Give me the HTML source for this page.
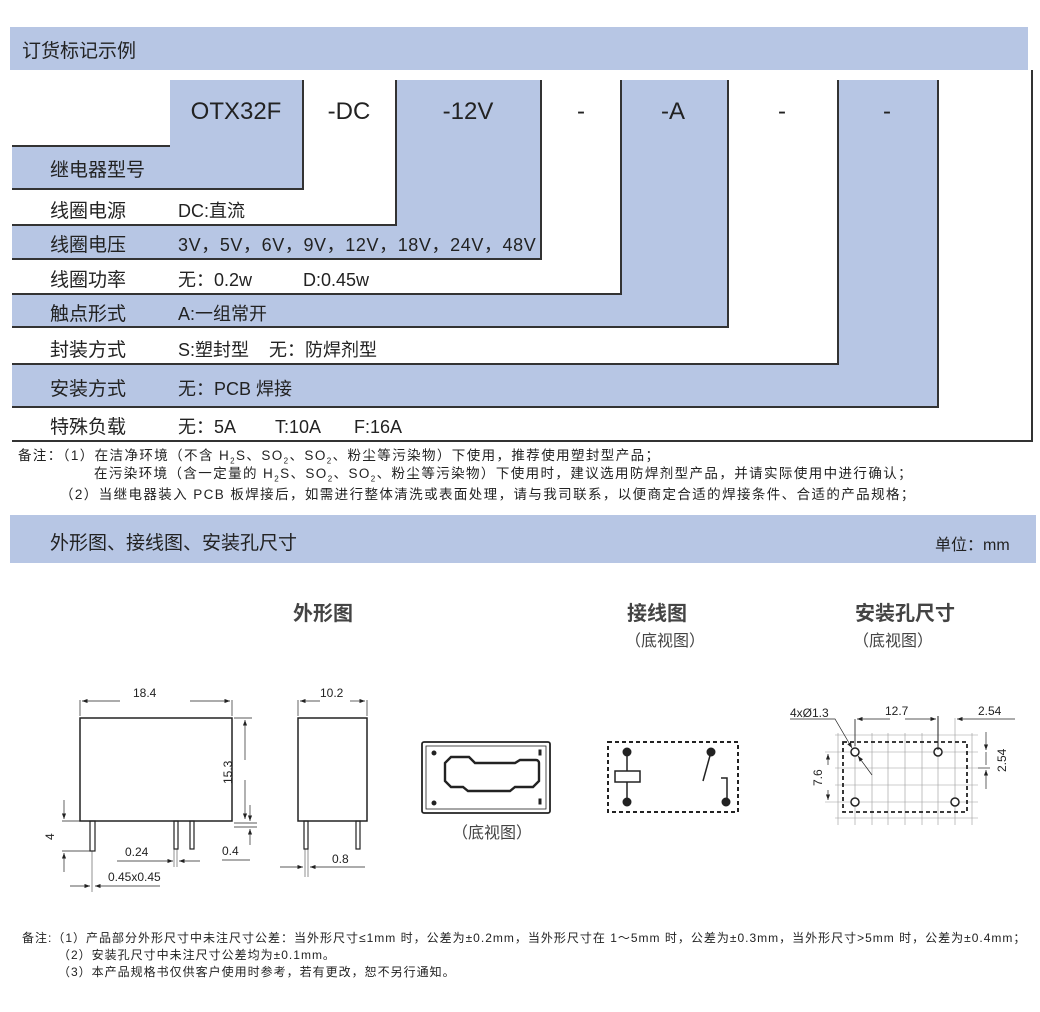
<!DOCTYPE html>
<html><head><meta charset="utf-8"><style>
*{margin:0;padding:0;box-sizing:border-box}
body{width:1040px;height:1012px;background:#fff;position:relative;overflow:hidden;font-family:"Liberation Sans","Noto Sans CJK SC",sans-serif;color:#222}
.a{position:absolute;white-space:nowrap}
.b{position:absolute;background:#b7c6e4}
.h{position:absolute;background:#333;height:1.5px}
.v{position:absolute;background:#333;width:1.5px}
.lab{position:absolute;left:50px;font-size:19px;white-space:nowrap}
.val{position:absolute;left:178px;font-size:18px;line-height:26px;white-space:nowrap;margin-top:4px}
.code{position:absolute;top:98px;font-size:24px;width:0;text-align:center;white-space:nowrap}
.code span{display:inline-block;transform:translateX(-50%)}
.n{position:absolute;font-size:13.5px;letter-spacing:1.4px;white-space:nowrap}
.m{position:absolute;font-size:12px;letter-spacing:1px;white-space:nowrap}
</style></head><body>
<div class="b" style="left:10px;top:27px;width:1018px;height:43px"></div>
<div class="a" style="left:22px;top:36px;font-size:19px">订货标记示例</div>

<div class="b" style="left:170px;top:80px;width:133px;height:109px"></div>
<div class="b" style="left:12px;top:146px;width:291px;height:43px"></div>
<div class="b" style="left:395px;top:80px;width:146px;height:179px"></div>
<div class="b" style="left:12px;top:225px;width:529px;height:34px"></div>
<div class="b" style="left:620px;top:80px;width:107px;height:247px"></div>
<div class="b" style="left:12px;top:294px;width:715px;height:33px"></div>
<div class="b" style="left:837px;top:80px;width:100px;height:327px"></div>
<div class="b" style="left:12px;top:364px;width:925px;height:43px"></div>

<div class="h" style="left:12px;top:145px;width:158px"></div>
<div class="h" style="left:12px;top:188px;width:292px"></div>
<div class="v" style="left:302px;top:80px;height:110px"></div>
<div class="h" style="left:12px;top:224px;width:384px"></div>
<div class="v" style="left:395px;top:80px;height:146px"></div>
<div class="h" style="left:12px;top:258px;width:530px"></div>
<div class="v" style="left:540px;top:80px;height:180px"></div>
<div class="h" style="left:12px;top:293px;width:609px"></div>
<div class="v" style="left:620px;top:80px;height:215px"></div>
<div class="h" style="left:12px;top:326px;width:716px"></div>
<div class="v" style="left:727px;top:80px;height:248px"></div>
<div class="h" style="left:12px;top:363px;width:826px"></div>
<div class="v" style="left:837px;top:80px;height:285px"></div>
<div class="h" style="left:12px;top:406px;width:926px"></div>
<div class="v" style="left:937px;top:80px;height:328px"></div>
<div class="h" style="left:12px;top:440px;width:1021px"></div>
<div class="v" style="left:1031px;top:70px;height:371px"></div>

<div class="code" style="left:236px"><span>OTX32F</span></div>
<div class="code" style="left:349px"><span>-DC</span></div>
<div class="code" style="left:468px"><span>-12V</span></div>
<div class="code" style="left:581px"><span>-</span></div>
<div class="code" style="left:673px"><span>-A</span></div>
<div class="code" style="left:782px"><span>-</span></div>
<div class="code" style="left:887px"><span>-</span></div>

<div class="lab" style="top:155px">继电器型号</div>
<div class="lab" style="top:196px">线圈电源</div><div class="val" style="top:194px">DC:直流</div>
<div class="lab" style="top:230px">线圈电压</div><div class="val" style="top:228px;letter-spacing:0.6px">3V，5V，6V，9V，12V，18V，24V，48V</div>
<div class="lab" style="top:265px">线圈功率</div><div class="val" style="top:263px">无：0.2w</div><div class="val" style="top:263px;left:303px">D:0.45w</div>
<div class="lab" style="top:299px">触点形式</div><div class="val" style="top:297px">A:一组常开</div>
<div class="lab" style="top:335px">封装方式</div><div class="val" style="top:333px">S:塑封型&nbsp;&nbsp;&nbsp;&nbsp;无：防焊剂型</div>
<div class="lab" style="top:374px">安装方式</div><div class="val" style="top:372px">无：PCB 焊接</div>
<div class="lab" style="top:412px">特殊负载</div><div class="val" style="top:410px">无：5A</div><div class="val" style="top:410px;left:275px">T:10A</div><div class="val" style="top:410px;left:354px">F:16A</div>

<div class="n" style="left:18px;top:444px">备注：（1）在洁净环境（不含 H<sub style="font-size:8px">2</sub>S、SO<sub style="font-size:8px">2</sub>、SO<sub style="font-size:8px">2</sub>、粉尘等污染物）下使用，推荐使用塑封型产品；</div>
<div class="n" style="left:94px;top:462px">在污染环境（含一定量的 H<sub style="font-size:8px">2</sub>S、SO<sub style="font-size:8px">2</sub>、SO<sub style="font-size:8px">2</sub>、粉尘等污染物）下使用时，建议选用防焊剂型产品，并请实际使用中进行确认；</div>
<div class="n" style="left:60px;top:483px">（2）当继电器装入 PCB 板焊接后，如需进行整体清洗或表面处理，请与我司联系，以便商定合适的焊接条件、合适的产品规格；</div>

<div class="b" style="left:10px;top:515px;width:1026px;height:48px"></div>
<div class="a" style="left:50px;top:528px;font-size:19px">外形图、接线图、安装孔尺寸</div>
<div class="a" style="left:935px;top:531px;font-size:16px">单位：mm</div>

<div class="a" style="left:293px;top:597px;font-size:20px;font-weight:bold;color:#444">外形图</div>
<div class="a" style="left:627px;top:597px;font-size:20px;font-weight:bold;color:#444">接线图</div>
<div class="a" style="left:625px;top:627px;font-size:16px;color:#444">（底视图）</div>
<div class="a" style="left:855px;top:597px;font-size:20px;font-weight:bold;color:#444">安装孔尺寸</div>
<div class="a" style="left:853px;top:627px;font-size:16px;color:#444">（底视图）</div>

<svg class="a" style="left:0;top:0" width="1040" height="1012" font-family="Liberation Sans" font-size="12" fill="none" stroke="#222">
<defs><marker id="ar" markerWidth="8" markerHeight="6" refX="8" refY="3" orient="auto"><path d="M0,0L8,3L0,6z" fill="#222" stroke="none"/></marker></defs>
<rect x="80" y="718" width="152" height="103" stroke-width="1.5"/>
<line x1="80" y1="700" x2="80" y2="716" stroke-width=".7"/><line x1="232" y1="700" x2="232" y2="716" stroke-width=".7"/>
<line x1="120" y1="701" x2="82" y2="701" marker-end="url(#ar)" stroke-width=".7"/><line x1="190" y1="701" x2="230" y2="701" marker-end="url(#ar)" stroke-width=".7"/>
<text x="133" y="697" fill="#222" stroke="none">18.4</text>
<line x1="234" y1="718" x2="252" y2="718" stroke-width=".7"/>
<line x1="245" y1="760" x2="245" y2="720" marker-end="url(#ar)" stroke-width=".7"/><line x1="245" y1="780" x2="245" y2="819" marker-end="url(#ar)" stroke-width=".7"/>
<text x="0" y="0" transform="translate(232,784) rotate(-90)" fill="#222" stroke="none">15.3</text>
<rect x="90" y="821" width="5" height="30" stroke-width="1.2"/>
<rect x="174" y="821" width="4" height="28" stroke-width="1.2"/>
<rect x="190" y="821" width="4" height="28" stroke-width="1.2"/>
<line x1="62" y1="821" x2="90" y2="821" stroke-width=".7"/><line x1="62" y1="851" x2="90" y2="851" stroke-width=".7"/>
<line x1="64" y1="800" x2="64" y2="819" marker-end="url(#ar)" stroke-width=".7"/><line x1="64" y1="872" x2="64" y2="853" marker-end="url(#ar)" stroke-width=".7"/>
<text x="0" y="0" transform="translate(54,840) rotate(-90)" fill="#222" stroke="none">4</text>
<line x1="117" y1="861" x2="173" y2="861" marker-end="url(#ar)" stroke-width=".7"/><line x1="200" y1="861" x2="179" y2="861" marker-end="url(#ar)" stroke-width=".7"/>
<line x1="174" y1="849" x2="174" y2="867" stroke-width=".5"/><line x1="177" y1="849" x2="177" y2="867" stroke-width=".5"/>
<text x="125" y="856" fill="#222" stroke="none">0.24</text>
<line x1="70" y1="886" x2="90" y2="886" marker-end="url(#ar)" stroke-width=".7"/><line x1="160" y1="886" x2="95" y2="886" marker-end="url(#ar)" stroke-width=".7"/>
<line x1="92" y1="851" x2="92" y2="892" stroke-width=".5"/>
<text x="108" y="881" fill="#222" stroke="none">0.45x0.45</text>
<line x1="234" y1="823" x2="257" y2="823" stroke-width=".7"/><line x1="234" y1="827" x2="257" y2="827" stroke-width=".7"/>
<line x1="250" y1="805" x2="250" y2="821" marker-end="url(#ar)" stroke-width=".7"/><line x1="250" y1="845" x2="250" y2="829" marker-end="url(#ar)" stroke-width=".7"/>
<line x1="222" y1="860" x2="250" y2="860" stroke-width=".7"/>
<text x="222" y="855" fill="#222" stroke="none">0.4</text>
<rect x="298" y="718" width="69" height="103" stroke-width="1.5"/>
<line x1="298" y1="700" x2="298" y2="716" stroke-width=".7"/><line x1="367" y1="700" x2="367" y2="716" stroke-width=".7"/>
<line x1="320" y1="701" x2="300" y2="701" marker-end="url(#ar)" stroke-width=".7"/><line x1="350" y1="701" x2="365" y2="701" marker-end="url(#ar)" stroke-width=".7"/>
<text x="320" y="697" fill="#222" stroke="none">10.2</text>
<rect x="304" y="821" width="4" height="28" stroke-width="1.2"/><rect x="356" y="821" width="4" height="28" stroke-width="1.2"/>
<line x1="280" y1="867" x2="303" y2="867" marker-end="url(#ar)" stroke-width=".7"/><line x1="365" y1="867" x2="310" y2="867" marker-end="url(#ar)" stroke-width=".7"/>
<line x1="305" y1="849" x2="305" y2="877" stroke-width=".5"/><line x1="308" y1="849" x2="308" y2="877" stroke-width=".5"/>
<text x="332" y="863" fill="#222" stroke="none">0.8</text>
<rect x="422" y="742" width="128" height="71" rx="2" stroke-width="1.8"/>
<rect x="426" y="746" width="120" height="63" stroke-width=".8"/>
<path d="M445 763 l6 -6 h18 l6 6 h40 l5 -3 h16 a3 3 0 0 1 3 3 v18 l-6 6 h-18 l-5 4 h-42 l-5 -4 h-12 l-6 -6 z" stroke-width="2.4"/>
<circle cx="434" cy="753" r="2" fill="#222"/><circle cx="434" cy="803" r="2" fill="#222"/>
<rect x="539" y="750" width="2" height="5" fill="#222"/><rect x="539" y="799" width="2" height="5" fill="#222"/>
<text x="452" y="838" fill="#444" stroke="none" font-family="Liberation Sans,Noto Sans CJK SC" font-size="16">（底视图）</text>
<rect x="608" y="742" width="130" height="70" stroke-width="2" stroke-dasharray="4,3"/>
<line x1="627" y1="752" x2="627" y2="802" stroke-width="1.5"/>
<rect x="615" y="771" width="25" height="11" fill="#fff" stroke-width="1.5"/>
<circle cx="627" cy="752" r="4" fill="#222"/><circle cx="627" cy="802" r="4" fill="#222"/>
<circle cx="711" cy="752" r="4" fill="#222"/>
<line x1="711" y1="752" x2="703" y2="781" stroke-width="1.5"/>
<polyline points="721,778 727,778 727,801" stroke-width="1.5"/>
<circle cx="726" cy="802" r="4" fill="#222"/>
<g stroke="#999" stroke-width=".6">
<line x1="838" y1="733" x2="838" y2="825"/><line x1="855" y1="720" x2="855" y2="825"/><line x1="872" y1="733" x2="872" y2="825"/><line x1="888" y1="733" x2="888" y2="825"/><line x1="905" y1="733" x2="905" y2="825"/><line x1="922" y1="733" x2="922" y2="825"/><line x1="938" y1="718" x2="938" y2="825"/><line x1="955" y1="718" x2="955" y2="825"/><line x1="972" y1="733" x2="972" y2="825"/>
<line x1="835" y1="735" x2="978" y2="735"/><line x1="825" y1="752" x2="978" y2="752"/><line x1="835" y1="768" x2="978" y2="768"/><line x1="835" y1="785" x2="978" y2="785"/><line x1="825" y1="802" x2="978" y2="802"/><line x1="835" y1="818" x2="978" y2="818"/>
</g>
<rect x="843" y="742" width="124" height="70" stroke-width="1.8" stroke-dasharray="4,3"/>
<g stroke-width="1.5" fill="#fff"><circle cx="855" cy="752" r="4"/><circle cx="938" cy="752" r="4"/><circle cx="855" cy="802" r="4"/><circle cx="955" cy="802" r="4"/></g>
<line x1="855" y1="719" x2="855" y2="746" stroke-width=".8"/><line x1="938" y1="716" x2="938" y2="750" stroke-width="1"/>
<line x1="890" y1="719" x2="857" y2="719" marker-end="url(#ar)" stroke-width=".7"/><line x1="905" y1="719" x2="936" y2="719" marker-end="url(#ar)" stroke-width=".7"/>
<text x="885" y="715" fill="#222" stroke="none">12.7</text>
<line x1="1015" y1="719" x2="957" y2="719" marker-end="url(#ar)" stroke-width=".7"/>
<text x="978" y="715" fill="#222" stroke="none">2.54</text>
<text x="790" y="717" fill="#222" stroke="none">4xØ1.3</text>
<polyline points="790,719 835,719 852,748" stroke-width=".7" marker-end="url(#ar)"/>
<line x1="872" y1="775" x2="858" y2="756" stroke-width=".7" marker-end="url(#ar)"/>
<line x1="986" y1="752" x2="986" y2="765" stroke-width=".7"/>
<line x1="986" y1="732" x2="986" y2="750" marker-end="url(#ar)" stroke-width=".7"/><line x1="986" y1="789" x2="986" y2="770" marker-end="url(#ar)" stroke-width=".7"/>
<line x1="978" y1="768" x2="990" y2="768" stroke-width=".7"/>
<text x="0" y="0" transform="translate(1006,772) rotate(-90)" fill="#222" stroke="none">2.54</text>
<line x1="828" y1="765" x2="828" y2="754" marker-end="url(#ar)" stroke-width=".7"/><line x1="828" y1="790" x2="828" y2="800" marker-end="url(#ar)" stroke-width=".7"/>
<text x="0" y="0" transform="translate(822,786) rotate(-90)" fill="#222" stroke="none">7.6</text>
</svg>

<div class="m" style="left:22px;top:929px">备注:（1）产品部分外形尺寸中未注尺寸公差：当外形尺寸≤1mm 时，公差为±0.2mm，当外形尺寸在 1～5mm 时，公差为±0.3mm，当外形尺寸&gt;5mm 时，公差为±0.4mm；</div>
<div class="m" style="left:58px;top:946px">（2）安装孔尺寸中未注尺寸公差均为±0.1mm。</div>
<div class="m" style="left:58px;top:963px">（3）本产品规格书仅供客户使用时参考，若有更改，恕不另行通知。</div>
</body></html>
